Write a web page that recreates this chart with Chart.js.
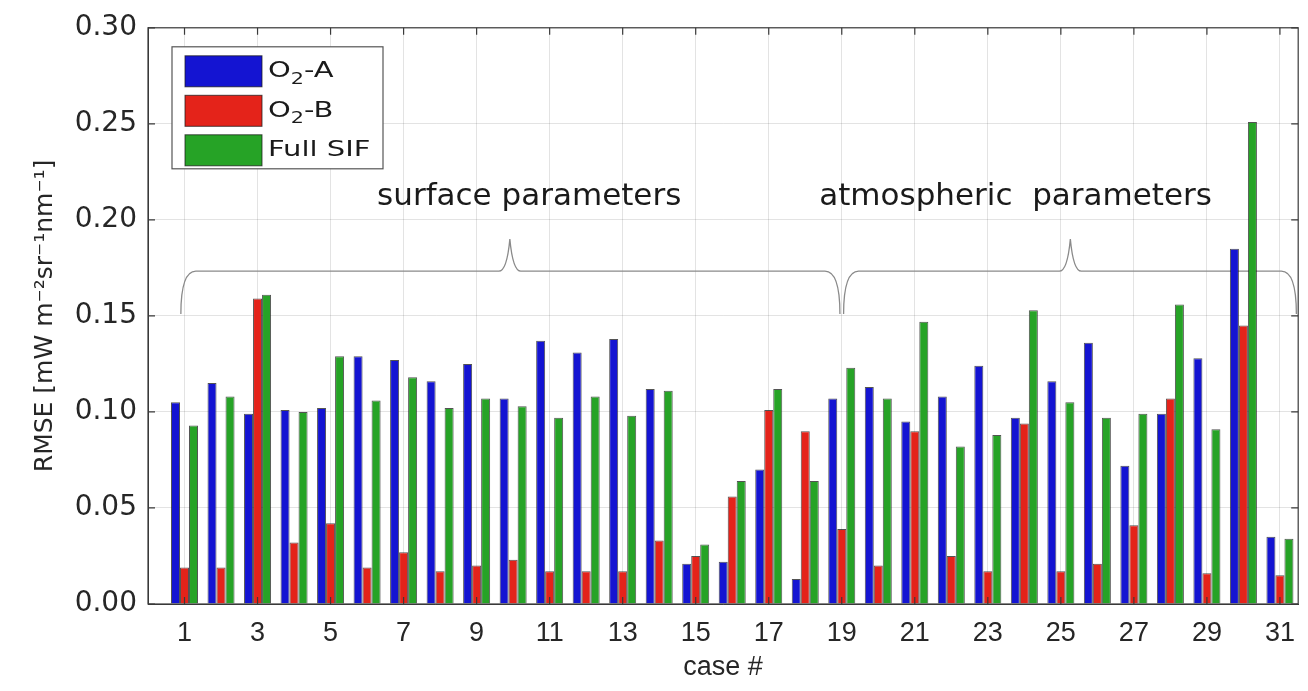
<!DOCTYPE html>
<html>
<head>
<meta charset="utf-8">
<title>RMSE per case</title>
<script src="https://cdn.jsdelivr.net/npm/chart.js@4.4.1/dist/chart.umd.min.js"></script>
<style>
  html, body { margin: 0; padding: 0; background: #fff; }
  #wrap { width: 1308px; height: 691px; position: relative; }
</style>
</head>
<body>
<div id="wrap"><canvas id="chart"></canvas></div>
<script>
// values (RMSE, mW m-2 sr-1 nm-1)
const caseNums = [1, 2, 3, 4, 5, 6, 7, 8, 9, 10, 11, 12, 13, 14, 15, 16, 17, 18, 19, 20, 21, 22, 23, 24, 25, 26, 27, 28, 29, 30, 31];
const caseTicks = [1, 3, 5, 7, 9, 11, 13, 15, 17, 19, 21, 23, 25, 27, 29, 31];
const yTicks = [0, 0.05, 0.1, 0.15, 0.2, 0.25, 0.3];
const seriesNames = ["O\u2082-A", "O\u2082-B", "Full SIF"];
const o2A = [0.105, 0.115, 0.099, 0.101, 0.102, 0.129, 0.127, 0.116, 0.125, 0.107,
             0.137, 0.131, 0.138, 0.112, 0.021, 0.022, 0.070, 0.013, 0.107, 0.113,
             0.095, 0.108, 0.124, 0.097, 0.116, 0.136, 0.072, 0.099, 0.128, 0.185, 0.035];
const o2B = [0.019, 0.019, 0.159, 0.032, 0.042, 0.019, 0.027, 0.017, 0.020, 0.023,
             0.017, 0.017, 0.017, 0.033, 0.025, 0.056, 0.101, 0.090, 0.039, 0.020,
             0.090, 0.025, 0.017, 0.094, 0.017, 0.021, 0.041, 0.107, 0.016, 0.145, 0.015];
const fullSIF = [0.093, 0.108, 0.161, 0.100, 0.129, 0.106, 0.118, 0.102, 0.107, 0.103,
                 0.097, 0.108, 0.098, 0.111, 0.031, 0.064, 0.112, 0.064, 0.123, 0.107,
                 0.147, 0.082, 0.088, 0.153, 0.105, 0.097, 0.099, 0.156, 0.091, 0.251, 0.034];

const groupLabels = [
  { text: "surface parameters", x: 10.44, y: 0.208 },
  { text: "atmospheric  parameters", x: 23.76, y: 0.208 }
];
// braces in data units: from, to, peak x; end / line / peak y
const braces = [
  { x0: 0.9, x1: 18.95, xp: 9.91 },
  { x0: 19.05, x1: 31.45, xp: 25.26 }
];
const braceY = { end: 0.151, line: 0.1733, peak: 0.19 };

const colors = ["#1414d2", "#e4231a", "#26a326"];
const edge = "rgba(25,25,25,0.75)";

function pts(arr) {
  return caseNums.map((c, i) => ({ x: c, y: arr[i] }));
}

// label with a real subscript for the "₂"
function drawLabel(ctx, label, x, y) {
  const parts = label.split("\u2082");
  ctx.font = "21px 'DejaVu Sans'";
  ctx.fillText(parts[0], x, y);
  if (parts.length < 2) return;
  let cx = x + ctx.measureText(parts[0]).width;
  ctx.font = "15px 'DejaVu Sans'";
  ctx.fillText("2", cx, y + 8);
  cx += ctx.measureText("2").width;
  ctx.font = "21px 'DejaVu Sans'";
  ctx.fillText(parts[1], cx, y);
}

// box, inward ticks, braces, group labels, legend
const decor = {
  id: "decor",
  beforeDatasetsDraw(chart) {
    const { ctx, scales: { x, y } } = chart;
    ctx.save();
    ctx.strokeStyle = "#8a8a8a";
    ctx.lineWidth = 1.3;
    braces.forEach((b) => {
      const x0 = x.getPixelForValue(b.x0), x1 = x.getPixelForValue(b.x1), xp = x.getPixelForValue(b.xp);
      const yE = y.getPixelForValue(braceY.end), yL = y.getPixelForValue(braceY.line), yP = y.getPixelForValue(braceY.peak);
      ctx.beginPath();
      ctx.moveTo(x0, yE);
      ctx.quadraticCurveTo(x0, yL, x0 + 15, yL);
      ctx.lineTo(xp - 11, yL);
      ctx.quadraticCurveTo(xp - 3, yL, xp, yP);
      ctx.quadraticCurveTo(xp + 3, yL, xp + 11, yL);
      ctx.lineTo(x1 - 15, yL);
      ctx.quadraticCurveTo(x1, yL, x1, yE);
      ctx.stroke();
    });
    ctx.fillStyle = "#1a1a1a";
    ctx.font = "31px 'DejaVu Sans'";
    ctx.textAlign = "center";
    ctx.textBaseline = "alphabetic";
    groupLabels.forEach((g) => {
      ctx.fillText(g.text, x.getPixelForValue(g.x), y.getPixelForValue(g.y));
    });
    ctx.restore();
  },
  afterDraw(chart) {
    const { ctx, chartArea: a, scales: { x, y } } = chart;
    ctx.save();
    ctx.strokeStyle = "#3a3a3a";
    ctx.lineWidth = 1.2;
    ctx.strokeRect(a.left, a.top, a.right - a.left, a.bottom - a.top);
    ctx.beginPath();
    caseTicks.forEach((v) => {
      const px = x.getPixelForValue(v);
      ctx.moveTo(px, a.bottom); ctx.lineTo(px, a.bottom - 7);
      ctx.moveTo(px, a.top); ctx.lineTo(px, a.top + 7);
    });
    yTicks.forEach((v) => {
      const py = y.getPixelForValue(v);
      ctx.moveTo(a.left, py); ctx.lineTo(a.left + 7, py);
      ctx.moveTo(a.right, py); ctx.lineTo(a.right - 7, py);
    });
    ctx.stroke();

    // legend
    const bx = a.left + 24, by = a.top + 19, bw = 211, bh = 122;
    ctx.fillStyle = "#fff";
    ctx.fillRect(bx, by, bw, bh);
    ctx.strokeStyle = "#555";
    ctx.lineWidth = 1.2;
    ctx.strokeRect(bx, by, bw, bh);
    chart.data.datasets.forEach((ds, i) => {
      const sy = by + 9 + i * 39.5;
      ctx.fillStyle = ds.backgroundColor;
      ctx.fillRect(bx + 13, sy, 77, 31);
      ctx.strokeStyle = edge;
      ctx.lineWidth = 1;
      ctx.strokeRect(bx + 13, sy, 77, 31);
      ctx.save();
      ctx.translate(bx + 96, sy + 16);
      ctx.scale(1.38, 1);
      ctx.fillStyle = "#1a1a1a";
      ctx.textAlign = "left";
      ctx.textBaseline = "middle";
      drawLabel(ctx, ds.label, 0, 0);
      ctx.restore();
    });
    ctx.restore();
  }
};

window.addEventListener("load", function () {
  new Chart(document.getElementById("chart"), {
    type: "bar",
    data: {
      datasets: [o2A, o2B, fullSIF].map((arr, i) => ({
        label: seriesNames[i],
        data: pts(arr),
        backgroundColor: colors[i],
        borderColor: edge,
        borderWidth: 1,
        categoryPercentage: 0.74,
        barPercentage: 1.0
      }))
    },
    options: {
      responsive: true,
      maintainAspectRatio: false,
      animation: false,
      layout: { padding: { left: 0, right: 3, top: 24, bottom: 0 } },
      plugins: { legend: { display: false }, tooltip: { enabled: false } },
      scales: {
        x: {
          type: "linear",
          min: 0,
          max: 31.5,
          offset: false,
          afterBuildTicks: (s) => { s.ticks = caseTicks.map((v) => ({ value: v })); },
          afterFit: (s) => { s.height = 87; },
          grid: { color: "rgba(0,0,0,0.11)", drawTicks: false, offset: false },
          border: { color: "#3a3a3a" },
          ticks: {
            padding: 13,
            color: "#262626",
            font: { family: "'Liberation Sans', Arial", size: 27 },
            callback: (v) => String(v),
            maxRotation: 0,
            autoSkip: false
          },
          title: {
            display: true,
            text: "case #",
            color: "#262626",
            font: { family: "'Liberation Sans', Arial", size: 27 },
            padding: { top: 0, bottom: 7 }
          }
        },
        y: {
          min: 0,
          max: 0.3,
          afterBuildTicks: (s) => { s.ticks = yTicks.map((v) => ({ value: v })); },
          afterFit: (s) => { s.width = 148; },
          grid: { color: "rgba(0,0,0,0.11)", drawTicks: false },
          border: { color: "#3a3a3a" },
          ticks: {
            padding: 11,
            color: "#262626",
            font: { family: "'DejaVu Sans'", size: 28 },
            callback: (v) => Number(v).toFixed(2)
          },
          title: {
            display: true,
            text: "RMSE [mW m\u207B\u00B2sr\u207B\u00B9nm\u207B\u00B9]",
            color: "#262626",
            font: { family: "'DejaVu Sans'", size: 25 },
            padding: { top: 30, bottom: 0 }
          }
        }
      }
    },
    plugins: [decor]
  });
});
</script>
</body>
</html>
